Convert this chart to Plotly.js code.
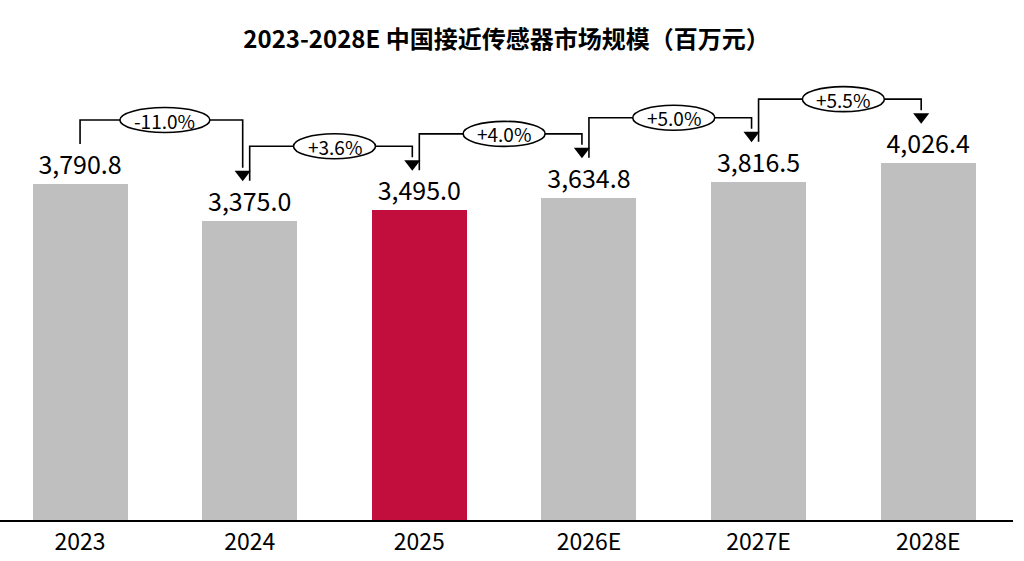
<!DOCTYPE html>
<html>
<head>
<meta charset="utf-8">
<script src="https://cdn.plot.ly/plotly-3.0.1.min.js"></script>
<style>html,body{margin:0;padding:0;background:#fff;}#chart{width:1024px;height:561px;}</style>
</head>
<body>
<div id="chart"></div>
<script>
// ---- data ----
const categories = ['2023', '2024', '2025', '2026E', '2027E', '2028E'];
const values = [3790.8, 3375.0, 3495.0, 3634.8, 3816.5, 4026.4];
const growthLabels = ['-11.0%', '+3.6%', '+4.0%', '+5.0%', '+5.5%'];
const highlightCategory = '2025';
const chartTitle = '2023-2028E 中国接近传感器市场规模（百万元）';

// ---- style / geometry ----
const FONT = '"Noto Sans CJK SC", "Noto Sans", sans-serif';
const GREY = '#bfbfbf', RED = '#c20e3d';
const Y_MAX = 5190;                 // y range top
const PLOT_H = 561 - 60 - 41;       // plot height in px
const U = Y_MAX / PLOT_H;           // data units per px (y)
const X_MIN = -0.472, X_MAX = 5.5;
const XU = (X_MAX - X_MIN) / (1024 - 11); // data units per px (x)

const xs = categories.map((c, i) => i);

const traces = [{
  type: 'bar',
  x: xs,
  y: values,
  width: 0.56,
  marker: {color: categories.map(c => c === highlightCategory ? RED : GREY)},
  texttemplate: '%{y:,.1f}',
  textposition: 'outside',
  textfont: {family: FONT, size: 25, color: '#000'},
  cliponaxis: false,
  hoverinfo: 'skip',
  showlegend: false
}];

const shapes = [];
const annotations = [];

for (let i = 0; i < growthLabels.length; i++) {
  const v0 = values[i], v1 = values[i + 1];
  const yStart = v0 + 40 * U;
  const yTop = Math.max(v0, v1) + 64 * U;
  const yTip = v1 + 40 * U;
  const xL = i, xR = i + 1 - 7 * XU;
  const headH = 13 * U;
  // connector line
  traces.push({
    type: 'scatter', mode: 'lines',
    x: [xL, xL, xR, xR],
    y: [yStart, yTop, yTop, yTip + headH],
    line: {color: '#000', width: 1.6},
    hoverinfo: 'skip', showlegend: false, cliponaxis: false
  });
  // arrow head
  traces.push({
    type: 'scatter', mode: 'markers',
    x: [xR], y: [yTip + headH / 2],
    marker: {symbol: 'triangle-down', size: 14, color: '#000', line: {width: 0}},
    hoverinfo: 'skip', showlegend: false, cliponaxis: false
  });
  // ellipse
  const xc = i + 0.5;
  const halfW = (growthLabels[i].length > 5 ? 45 : 41) * XU;
  const halfH = 12.5 * U;
  shapes.push({
    type: 'circle', xref: 'x', yref: 'y', layer: 'above',
    x0: xc - halfW, x1: xc + halfW, y0: yTop - halfH, y1: yTop + halfH,
    fillcolor: '#fff', line: {color: '#000', width: 1.6}
  });
  annotations.push({
    x: xc, y: yTop, xref: 'x', yref: 'y',
    text: growthLabels[i], showarrow: false,
    font: {family: FONT, size: 19, color: '#000'},
    xanchor: 'center', yanchor: 'middle'
  });
}

const layout = {
  width: 1024, height: 561,
  margin: {l: 0, r: 11, t: 60, b: 41},
  paper_bgcolor: '#fff', plot_bgcolor: '#fff',
  title: {
    text: '<b>' + chartTitle + '</b>',
    font: {family: FONT, size: 24, color: '#000'},
    x: 0.5, xanchor: 'center', xref: 'paper',
    y: 1 - 40 / 561, yanchor: 'middle', yref: 'container'
  },
  xaxis: {
    range: [X_MIN, X_MAX],
    tickvals: xs, ticktext: categories,
    showgrid: false, zeroline: false,
    showline: true, linecolor: '#000', linewidth: 2,
    ticks: '', ticklen: 0,
    tickfont: {family: FONT, size: 23, color: '#000'},
    fixedrange: true
  },
  yaxis: {
    range: [0, Y_MAX], visible: false, showgrid: false, zeroline: false,
    fixedrange: true
  },
  shapes: shapes,
  annotations: annotations,
  bargap: 0
};

Plotly.newPlot('chart', traces, layout, {displayModeBar: false, staticPlot: true});
</script>
</body>
</html>
